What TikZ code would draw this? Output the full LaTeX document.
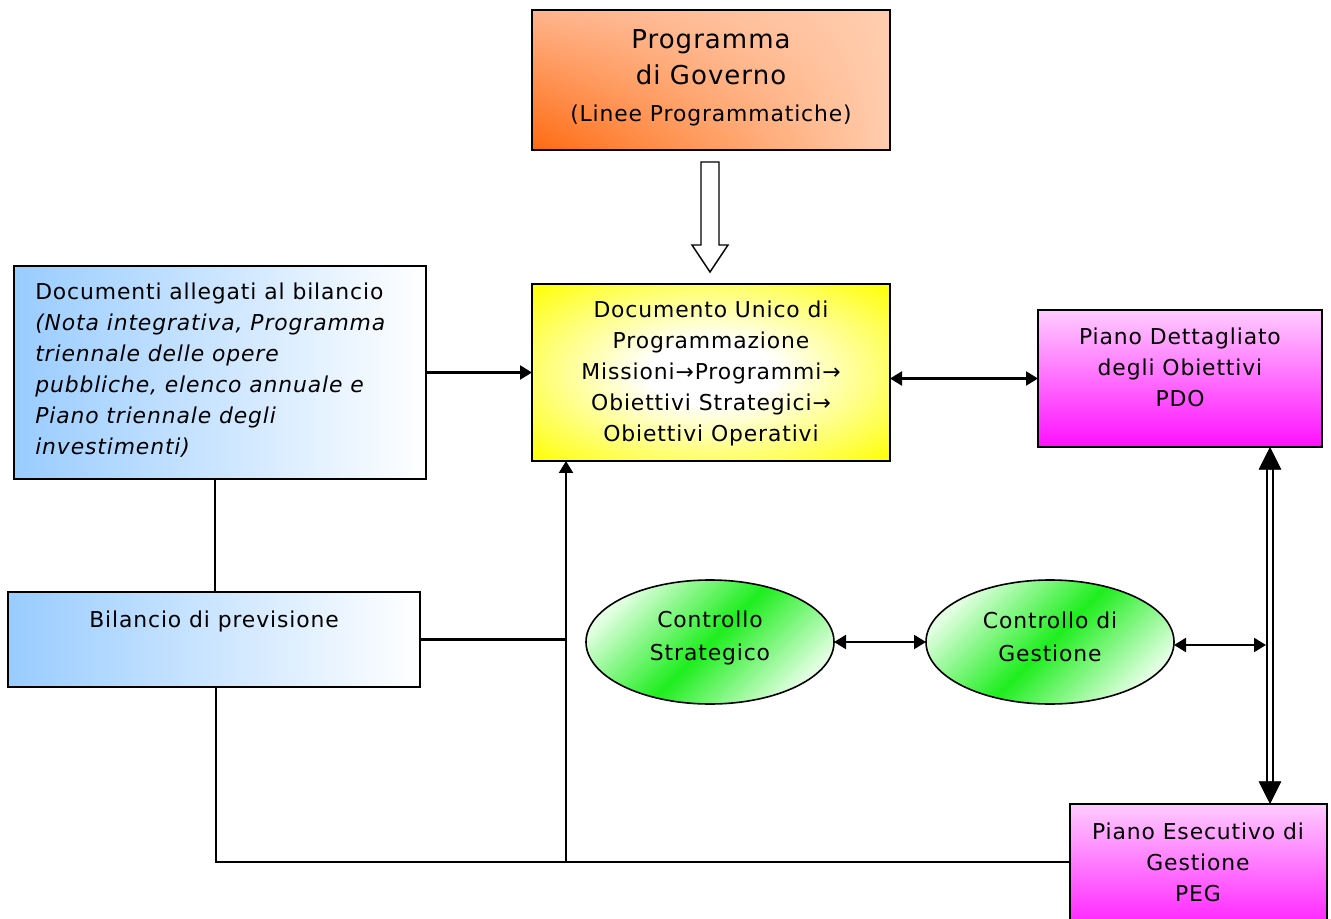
\documentclass[tikz,border=0pt]{standalone}
\usepackage{fontspec}
\setmainfont{DejaVu Sans}[LetterSpace=4]
\usetikzlibrary{arrows.meta,shapes.geometric,calc,shadings}
\definecolor{orgD}{HTML}{FF6A10}
\definecolor{orgM}{HTML}{FFB48C}
\definecolor{orgL}{HTML}{FFCDAE}
\definecolor{blu}{HTML}{99CCFF}
\definecolor{pinkL}{HTML}{FFCCFF}
\definecolor{mag}{HTML}{FF10FF}
\definecolor{grn}{HTML}{1EEE1E}
\definecolor{grnL}{HTML}{E2FFE2}
\definecolor{yel}{HTML}{FFFF10}
\pgfdeclareradialshading{dupshade}{\pgfpoint{0bp}{0bp}}{color(0bp)=(white); color(9bp)=(white); color(34bp)=(yel); color(50bp)=(yel)}
\tikzset{
  box/.style={draw, line width=1.6pt, inner sep=0pt, outer sep=0pt},
  txt/.style={inner sep=0pt, align=center, font=\fontsize{16.4}{23.25}\selectfont},
  conn/.style={line width=1.6pt},
  tipA/.style={-{Triangle[length=9pt,width=10.5pt]}},
  tipB/.style={{Triangle[length=9pt,width=10.5pt]}-{Triangle[length=9pt,width=10.5pt]}},
  bigtip/.style={line width=0.5pt, -{Triangle[length=17pt,width=17pt]}}
}
\begin{document}
\begin{tikzpicture}[x=0.75pt,y=-0.75pt]
\path[use as bounding box] (0,0) rectangle (1331,919);
% boxes
\node[box, minimum width=358*0.75pt, minimum height=140*0.75pt,
  lower left=orgD, upper left=orgM, upper right=orgL, lower right=orgL] (gov) at (711,80) {};
\node[box, minimum width=358*0.75pt, minimum height=177*0.75pt,
  shade, shading=dupshade] (dup) at (711,372.5) {};
\node[box, minimum width=412*0.75pt, minimum height=213*0.75pt,
  left color=blu, right color=white] (doc) at (220,372.5) {};
\node[box, minimum width=412*0.75pt, minimum height=95*0.75pt,
  left color=blu, right color=white] (bil) at (214,639.5) {};
\node[box, minimum width=284*0.75pt, minimum height=137*0.75pt,
  top color=pinkL, bottom color=mag] (pdo) at (1180,378.5) {};
\node[box, minimum width=257*0.75pt, minimum height=136*0.75pt,
  top color=pinkL, bottom color=mag] (peg) at (1198.5,872) {};
\node[ellipse, draw, line width=1.2pt, inner sep=0pt, outer sep=0pt,
  minimum width=248*0.75pt, minimum height=124*0.75pt,
  top color=grnL, bottom color=grnL, middle color=grn, shading angle=45] (str) at (710,642) {};
\node[ellipse, draw, line width=1.2pt, inner sep=0pt, outer sep=0pt,
  minimum width=248*0.75pt, minimum height=124*0.75pt,
  top color=grnL, bottom color=grnL, middle color=grn, shading angle=45] (gest) at (1050,642) {};
% texts
\node[txt, font=\fontsize{19.5}{27}\selectfont] at (711,78)
  {Programma\\di Governo\\[1pt]{\fontsize{16.4}{23}\selectfont(Linee Programmatiche)}};
\node[txt] at (711,373) {Documento Unico di\\Programmazione\\Missioni→Programmi→\\Obiettivi Strategici→\\Obiettivi Operativi};
\node[txt, align=left, anchor=west] at (35,370) {Documenti allegati al bilancio\\\textit{(Nota integrativa, Programma}\\\textit{triennale delle opere}\\\textit{pubbliche, elenco annuale e}\\\textit{Piano triennale degli}\\\textit{investimenti)}};
\node[txt] at (214,621) {Bilancio di previsione};
\node[txt] at (1180,367) {Piano Dettagliato\\degli Obiettivi\\PDO};
\node[txt] at (1198,862) {Piano Esecutivo di\\Gestione\\PEG};
\node[txt, font=\fontsize{16.4}{24.75}\selectfont] at (710,638) {Controllo\\Strategico};
\node[txt, font=\fontsize{16.4}{24.75}\selectfont] at (1050,637) {Controllo di\\Gestione};
% helper coordinates
\coordinate (lx) at (215,0);
\coordinate (lx2) at (216,0);
\coordinate (bot) at (566,862);
\coordinate (dblx) at (1270,0);
\coordinate (dblL) at (1266,645);
% connectors
\draw[conn, tipA] (doc.east) -- (doc.east -| dup.west);
\draw[conn, tipB] (pdo.west -| dup.east) -- (pdo.west);
\draw[conn] (doc.south -| lx) -- (bil.north -| lx);
\draw[conn] (bil.south -| lx2) |- (peg.west |- bot);
\draw[conn, tipA] (bot) -- (bot |- dup.south);
\draw[conn] (bil.east) -- (bil.east -| bot);
\draw[conn, tipB] (str.east) -- (gest.west);
\draw[conn, tipB] (gest.east |- dblL) -- (dblL);
% double line with big tips
\draw[line width=1.3pt, double distance=3.4pt, double=white, shorten <=16pt, shorten >=16pt]
  (pdo.south -| dblx) -- (peg.north -| dblx);
\draw[bigtip] ($(pdo.south -| dblx)+(0,23)$) -- (pdo.south -| dblx);
\draw[bigtip] ($(peg.north -| dblx)+(0,-23)$) -- (peg.north -| dblx);
% hollow block arrow
\draw[line width=1.1pt, fill=white, line join=miter]
  (701,162) -- (719,162) -- (719,245) -- (728,245) -- (710,272) -- (692,245) -- (701,245) -- cycle;
\end{tikzpicture}
\end{document}
